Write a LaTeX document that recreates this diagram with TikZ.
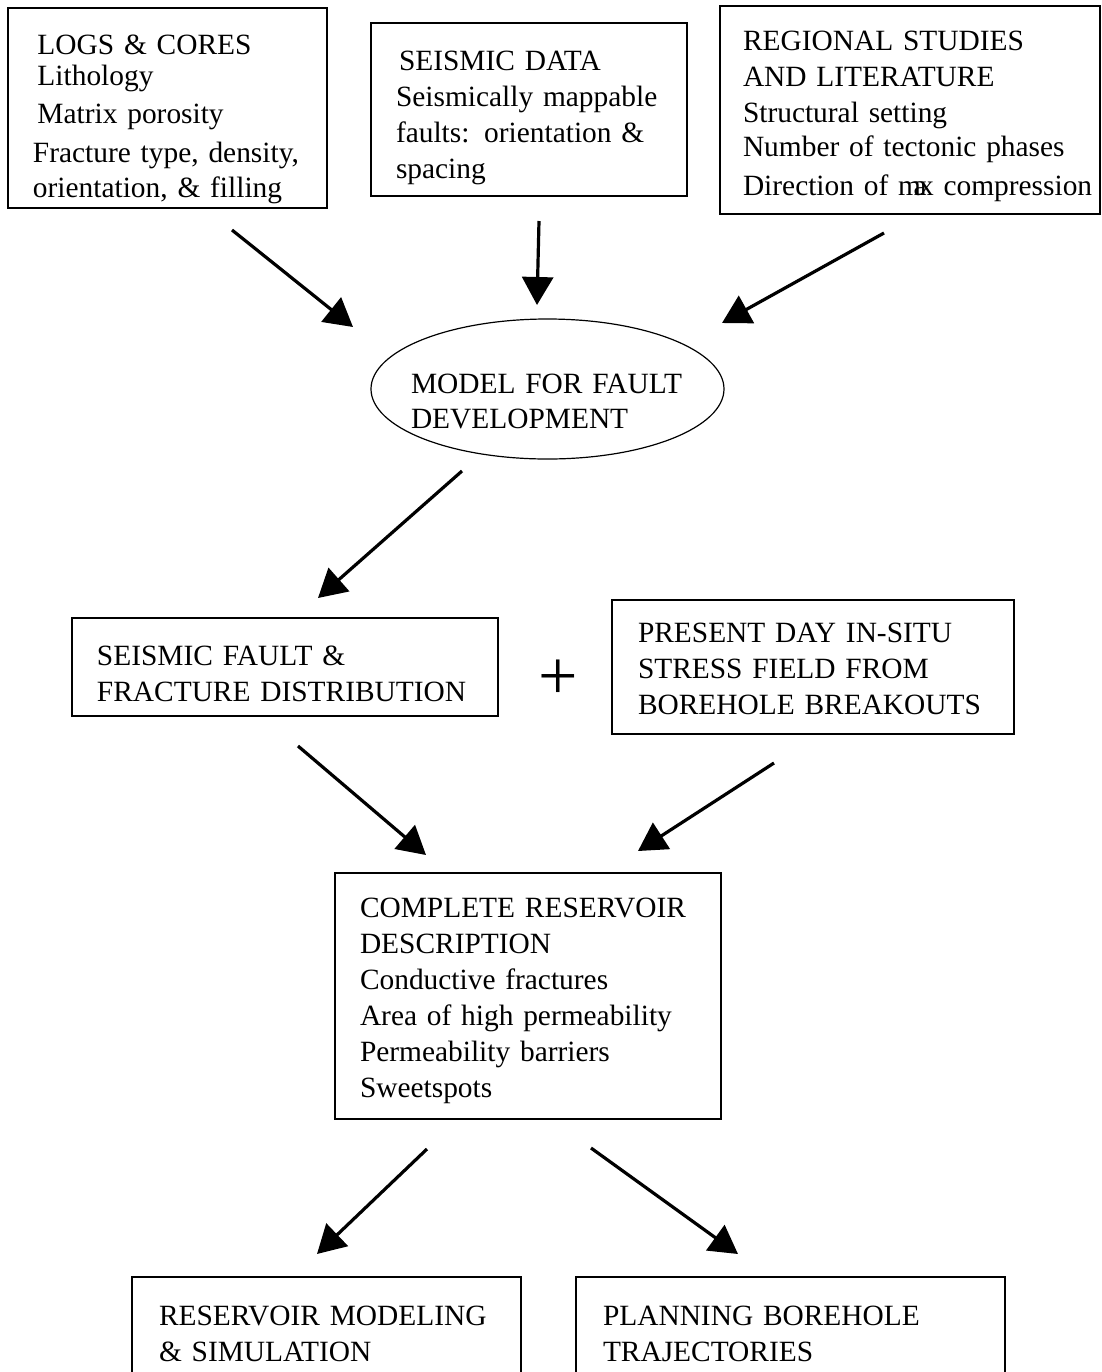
\documentclass[tikz,border=0pt]{standalone}
\usepackage{fontspec}
\setmainfont{Liberation Serif}
\usetikzlibrary{arrows.meta,shapes.geometric}
\newcommand{\lpad}[2]{\leftskip=#1\rightskip=-2em plus 1fil\relax #2\par}

\begin{document}
\begin{tikzpicture}[x=0.5pt,y=-0.5pt,
    box/.style={draw,line width=0.85pt,rectangle,anchor=north west,inner sep=0pt,outer sep=0pt,
        align=left,font=\fontsize{14.7}{18}\selectfont},
    flow/.style={line width=1.6pt,-{Triangle[length=14pt,width=15.5pt]}}]
    % page
    \path[use as bounding box,fill=white] (0,0) rectangle (1102,1372);
    % data sources
    \node[box,text width=159.5pt,text height=23pt,text depth=77pt] (logs) at (8,8)
        {\lpad{12.5pt}{\hspace*{2.25pt}LOGS \& CORES\\[-2.5pt] \hspace*{2.25pt}Lithology\\[1pt]
         \hspace*{2.25pt}Matrix porosity\\[1.5pt] Fracture type, density,\\[-0.5pt] orientation, \& filling}};
    \node[box,text width=158pt,text height=23.5pt,text depth=63pt] (seismic) at (371,23)
        {\lpad{12.5pt}{\hspace*{1.5pt}SEISMIC DATA\\ Seismically mappable\\
         faults: orientation \&\\ spacing}};
    \node[box,text width=190pt,text height=22pt,text depth=82pt] (regional) at (720,6)
        {\lpad{11.5pt}{REGIONAL STUDIES\\ AND LITERATURE\\ Structural setting\\[-1pt]
         Number of tectonic phases\\[1.5pt] Direction of m\kern-3.75pt a\kern-3.75pt x compression}};
    % model
    \node[ellipse,draw,line width=0.6pt,minimum width=176.5pt,minimum height=70pt,
        inner xsep=-20pt,inner ysep=0pt,text width=136.5pt,text height=15pt,text depth=11pt,
        align=left,font=\fontsize{14.7}{17.5}\selectfont] (model) at (547.5,389)
        {\lpad{0pt}{MODEL FOR FAULT\\ DEVELOPMENT}};
    % fault distribution and stress field
    \node[box,text width=213pt,text height=23.5pt,text depth=25.5pt] (seisfault) at (72,618)
        {\lpad{12.5pt}{SEISMIC FAULT \&\\ FRACTURE DISTRIBUTION}};
    \node[font=\fontsize{35}{35}\selectfont,inner sep=0pt] (plus) at (558,680) {+};
    \node[box,text width=201pt,text height=21pt,text depth=46pt] (present) at (612,600)
        {\lpad{13pt}{PRESENT DAY IN-SITU\\ STRESS FIELD FROM\\ BOREHOLE BREAKOUTS}};
    % reservoir description
    \node[box,text width=193pt,text height=22pt,text depth=101pt] (complete) at (335,873)
        {\lpad{12.5pt}{COMPLETE RESERVOIR\\ DESCRIPTION\\ Conductive fractures\\
         Area of high permeability\\ Permeability barriers\\ Sweetspots}};
    % applications
    \node[box,text width=194.5pt,text height=24pt,text depth=50pt] (modeling) at (132,1277)
        {\lpad{13.5pt}{RESERVOIR MODELING\\ \& SIMULATION}};
    \node[box,text width=214.5pt,text height=24pt,text depth=50pt] (planning) at (576,1277)
        {\lpad{13.5pt}{PLANNING BOREHOLE\\ TRAJECTORIES}};
    % arrow ends
    \coordinate (logs-s) at (232,230);
    \coordinate (model-l) at (353,327);
    \coordinate (seismic-s) at (539,221);
    \coordinate (model-t) at (537,305);
    \coordinate (regional-s) at (884,233);
    \coordinate (model-r) at (722,323);
    \coordinate (model-s) at (462,471);
    \coordinate (seisfault-t) at (318,598);
    \coordinate (seisfault-s) at (298,746);
    \coordinate (complete-l) at (426,855);
    \coordinate (present-s) at (774,763);
    \coordinate (complete-r) at (638,851);
    \coordinate (complete-sl) at (427,1149);
    \coordinate (modeling-t) at (317,1254);
    \coordinate (complete-sr) at (591,1148);
    \coordinate (planning-t) at (738,1254);
    % arrows
    \foreach \a/\b in {logs-s/model-l, seismic-s/model-t, regional-s/model-r,
        model-s/seisfault-t, seisfault-s/complete-l, present-s/complete-r,
        complete-sl/modeling-t, complete-sr/planning-t} {
        \draw[flow] (\a) -- (\b);
    }
\end{tikzpicture}
\end{document}
